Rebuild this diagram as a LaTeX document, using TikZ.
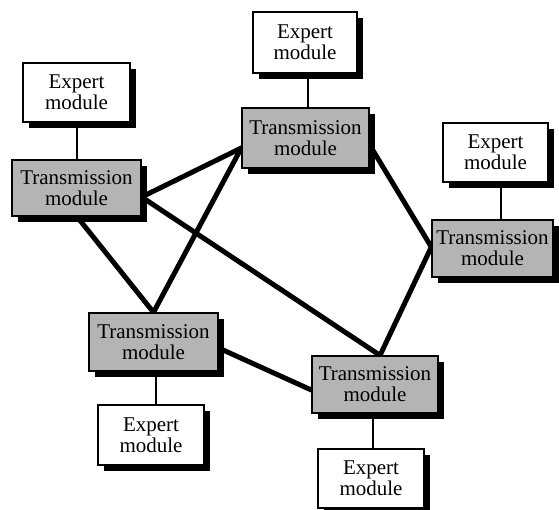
\documentclass[tikz,border=0pt]{standalone}
\usepackage{fontspec}
\setmainfont{Liberation Serif}
\usetikzlibrary{shadows,calc,backgrounds}
\definecolor{boxgray}{RGB}{180,180,180}
\begin{document}
\begin{tikzpicture}[x=1pt,y=-1pt,
  base/.style={draw=black,line width=1.3pt,inner sep=0pt,align=center,
    font=\fontsize{21}{21}\selectfont,
    drop shadow={shadow xshift=6pt,shadow yshift=-6pt,fill=black,opacity=1}},
  expert/.style={base,fill=white},
  trans/.style={base,fill=boxgray},
  link/.style={line width=5pt,line cap=round,line join=miter},
  thin/.style={line width=2pt}]
\useasboundingbox (0,0) rectangle (559,510);
\path
  (76.5,92.5) node[expert,minimum width=107pt,minimum height=59pt] (E1) {Expert\\module}
  (76.5,188) node[trans,minimum width=129pt,minimum height=56pt] (T1) {Transmission\\module}
  (305,42.5) node[expert,minimum width=104pt,minimum height=61pt] (E2) {Expert\\module}
  (305.5,138) node[trans,minimum width=127pt,minimum height=60pt] (T2) {Transmission\\module}
  (495.5,152.5) node[expert,minimum width=105pt,minimum height=59pt] (E3) {Expert\\module}
  (492.5,248.5) node[trans,minimum width=121pt,minimum height=57pt] (T3) {Transmission\\module}
  (153.5,342) node[trans,minimum width=129pt,minimum height=58pt] (T4) {Transmission\\module}
  (151,435) node[expert,minimum width=106pt,minimum height=60pt] (E4) {Expert\\module}
  (375,384.5) node[trans,minimum width=126pt,minimum height=57pt] (T5) {Transmission\\module}
  (371,478.5) node[expert,minimum width=106pt,minimum height=59pt] (E5) {Expert\\module};
\begin{scope}[on background layer]
  % expert-to-transmission connectors
  \draw[thin] (E1.south) -- (T1.north);
  \draw[thin] ([xshift=3pt]E2.south) -- ([xshift=3pt]E2.south |- T2.north);
  \draw[thin] ([xshift=5.5pt]E3.south) -- ([xshift=5.5pt]E3.south |- T3.north);
  \draw[thin] ([xshift=2.5pt]T4.south) -- ([xshift=2.5pt]T4.south |- E4.north);
  \draw[thin] ([xshift=-2pt]T5.south) -- ([xshift=-2pt]T5.south |- E5.north);
  % network links
  \coordinate (t1e) at ($(T1.east)+(0,9)$);
  \coordinate (t2w) at ($(T2.west)+(0,10)$);
  \coordinate (t2e) at ($(T2.east)+(0,7)$);
  \coordinate (t3w) at ($(T3.west)+(0,-1.5)$);
  \coordinate (t4n) at ($(T4.north)+(0,0)$);
  \coordinate (t4e) at ($(T4.east)+(0,6)$);
  \coordinate (t5n) at ($(T5.north)+(5,0)$);
  \coordinate (t5w) at ($(T5.west)+(0,5.5)$);
  \coordinate (t1s) at ($(T1.south)+(0.5,0)$);
  \draw[link] (t1e) -- (t2w);
  \draw[link] (t1e) -- (t5n);
  \draw[link] (t1s) -- (t4n);
  \draw[link] (t4n) -- (t2w);
  \draw[link] (t4e) -- (t5w);
  \draw[link] (t2e) -- (t3w);
  \draw[link] (t3w) -- (t5n);
\end{scope}
\end{tikzpicture}
\end{document}
